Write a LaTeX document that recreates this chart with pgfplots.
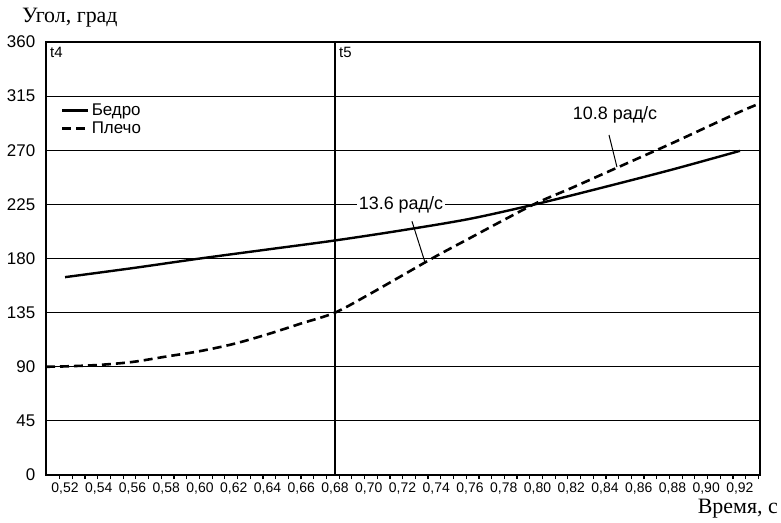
\documentclass[border=0pt]{standalone}
\usepackage{pgfplots}
\pgfplotsset{compat=1.18}
\usepackage{fontspec}
\setmainfont{Liberation Serif}
\newfontfamily\arialfont{Liberation Sans}
\begin{document}
\begin{tikzpicture}
\begin{axis}[
  name=ax,
  scale only axis, width=714bp, height=433bp,
  xmin=0.5087, xmax=0.9319, ymin=0, ymax=360,
  axis line style={line width=1.6bp},
  xtick={0.52,0.54,...,0.921},
  xticklabels={{0,52},{0,54},{0,56},{0,58},{0,60},{0,62},{0,64},{0,66},{0,68},{0,70},{0,72},{0,74},{0,76},{0,78},{0,80},{0,82},{0,84},{0,86},{0,88},{0,90},{0,92}},
  major x tick style={draw=none},
  minor xtick={0.5168,0.52433,...,0.931},
  minor x tick style={line width=1.2bp, black},
  minor tick length=4bp,
  tick align=outside,
  xtick pos=lower, ytick pos=left,
  ytick={0,45,...,360},
  major y tick style={draw=none},
  ymajorgrids,
  major grid style={black, line width=1.2bp},
  /pgf/number format/assume math mode=true,
  yticklabel style={font=\arialfont\fontsize{17}{17}\selectfont, xshift=-3bp},
  xticklabel style={font=\arialfont\fontsize{14}{14}\selectfont},
  legend style={at={(0.021,0.862)}, anchor=north west, draw=none, fill=none,
    font=\arialfont\fontsize{17}{17}\selectfont, inner sep=0pt, row sep=1bp,
    cells={anchor=west}},
  legend image code/.code={\draw[#1] (0bp,0bp) -- (26bp,0bp);},
]
\addplot[black, line width=2.4bp, smooth] coordinates {
  (0.52,164.5) (0.56,172) (0.60,180) (0.64,187.5) (0.68,195) (0.72,203.5)
  (0.76,213) (0.80,225.5) (0.84,239.5) (0.88,254) (0.92,269.5)
};
\addlegendentry{Бедро}
\addplot[black, line width=2.6bp, dash pattern=on 9bp off 5bp, smooth] coordinates {
  (0.5087,90) (0.52,90.3) (0.54,91.5) (0.56,94) (0.58,98.5) (0.60,103)
  (0.62,109) (0.64,117) (0.66,126) (0.68,135) (0.70,150) (0.72,166)
  (0.74,182) (0.76,197) (0.78,212) (0.80,226.5) (0.82,238.5) (0.84,251)
  (0.86,263.5) (0.88,276) (0.90,289) (0.92,302) (0.9319,309)
};
\addlegendentry{Плечо}
\draw[black, line width=1.3bp] (axis cs:0.68,0) -- (axis cs:0.68,360);
\node[anchor=north west, inner sep=0pt, font=\arialfont\fontsize{15}{15}\selectfont] at ([shift={(4bp,-5bp)}]axis cs:0.5087,360) {t4};
\node[anchor=north west, inner sep=0pt, font=\arialfont\fontsize{15}{15}\selectfont] at ([shift={(4bp,-5bp)}]axis cs:0.68,360) {t5};
\node[fill=white, inner sep=1.5bp, font=\arialfont\fontsize{18}{18}\selectfont] at (axis cs:0.7191,225) {13.6 рад/с};
\draw[black, line width=1bp] (axis cs:0.7256,211) -- (axis cs:0.7333,177);
\node[font=\arialfont\fontsize{18}{18}\selectfont] at (axis cs:0.846,299.3) {10.8 рад/с};
\draw[black, line width=1bp] (axis cs:0.8424,282.7) -- (axis cs:0.8471,256.1);
\end{axis}
\node[anchor=base west, inner sep=0pt, font=\fontsize{22}{22}\selectfont] at ([shift={(-24bp,19bp)}]ax.north west) {Угол, град};
\node[anchor=base east, inner sep=0pt, font=\fontsize{22}{22}\selectfont] at ([shift={(18bp,-38bp)}]ax.south east) {Время, с};
\pgfresetboundingbox
\path ([shift={(-46bp,-48bp)}]ax.south west) rectangle ([shift={(21bp,42bp)}]ax.north east);
\end{tikzpicture}
\end{document}
